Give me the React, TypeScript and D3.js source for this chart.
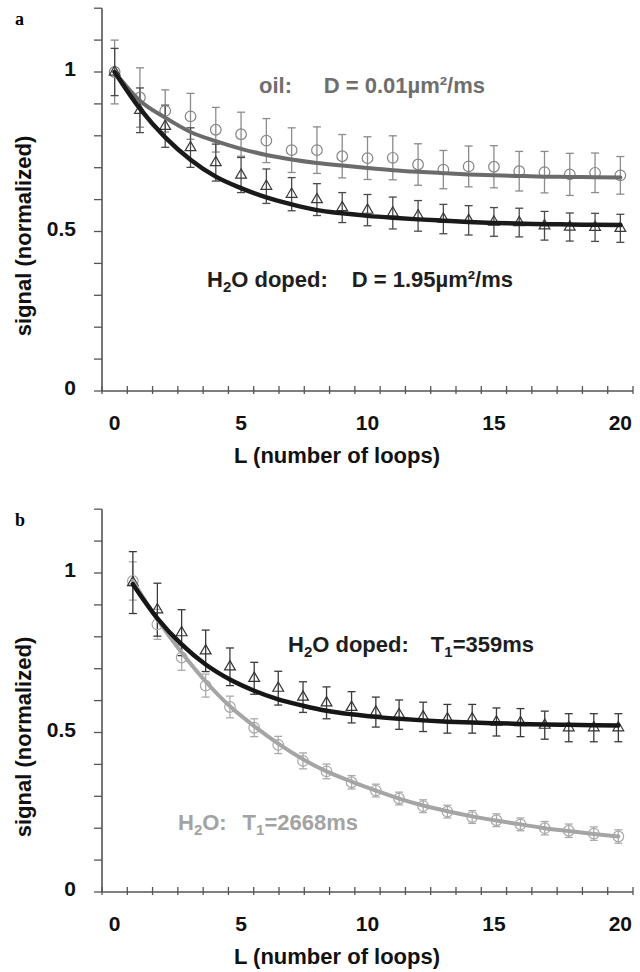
import * as d3 from 'd3';

// L categories (number of loops)
const loopsA = [0, 1, 2, 3, 4, 5, 6, 7, 8, 9, 10, 11, 12, 13, 14, 15, 16, 17, 18, 19, 20];
// panel b points sit slightly off the category centres
const loopsB = [0.72, 1.69, 2.65, 3.6, 4.56, 5.52, 6.47, 7.45, 8.38, 9.37, 10.33, 11.25, 12.2, 13.16, 14.14, 15.1, 16.05, 17.01, 17.96, 18.95, 19.92];

const xTickLabels = [0, 5, 10, 15, 20];
const yTicks = [0, 0.1, 0.2, 0.3, 0.4, 0.5, 0.6, 0.7, 0.8, 0.9, 1, 1.1, 1.2];
const yTickLabels = [0, 0.5, 1];

// panel a: oil
const oilSignalA = [1.0, 0.92, 0.878, 0.861, 0.819, 0.805, 0.785, 0.755, 0.755, 0.736, 0.73, 0.731, 0.71, 0.694, 0.704, 0.703, 0.689, 0.686, 0.679, 0.684, 0.676];
const oilErrA = [0.1, 0.093, 0.066, 0.072, 0.07, 0.069, 0.069, 0.07, 0.073, 0.068, 0.067, 0.069, 0.065, 0.06, 0.064, 0.066, 0.062, 0.065, 0.066, 0.062, 0.059];
const oilFitA = [1.0, 0.91, 0.857, 0.812, 0.783, 0.759, 0.74, 0.726, 0.715, 0.707, 0.699, 0.692, 0.687, 0.683, 0.679, 0.676, 0.674, 0.672, 0.671, 0.67, 0.669];

// panel a: H2O doped
const dopedSignalA = [1.0, 0.88, 0.83, 0.763, 0.716, 0.677, 0.642, 0.617, 0.6, 0.575, 0.567, 0.558, 0.549, 0.539, 0.535, 0.53, 0.528, 0.518, 0.514, 0.513, 0.51];
const dopedErrA = [0.074, 0.07, 0.066, 0.062, 0.058, 0.055, 0.054, 0.052, 0.05, 0.047, 0.049, 0.05, 0.048, 0.046, 0.046, 0.045, 0.045, 0.045, 0.044, 0.044, 0.044];
const dopedFitA = [1.0, 0.885, 0.795, 0.725, 0.672, 0.636, 0.607, 0.585, 0.567, 0.557, 0.549, 0.543, 0.538, 0.534, 0.53, 0.527, 0.525, 0.523, 0.522, 0.521, 0.52];

// panel b: H2O doped
const dopedSignalB = [0.97, 0.885, 0.813, 0.756, 0.706, 0.67, 0.639, 0.611, 0.593, 0.579, 0.564, 0.556, 0.549, 0.543, 0.543, 0.533, 0.531, 0.523, 0.515, 0.515, 0.515];
const dopedErrB = [0.097, 0.083, 0.072, 0.065, 0.059, 0.05, 0.053, 0.048, 0.05, 0.049, 0.047, 0.046, 0.046, 0.045, 0.045, 0.044, 0.044, 0.044, 0.044, 0.044, 0.044];
const dopedFitB = [0.965, 0.858, 0.776, 0.713, 0.666, 0.631, 0.604, 0.584, 0.568, 0.557, 0.549, 0.543, 0.538, 0.534, 0.531, 0.529, 0.527, 0.525, 0.524, 0.523, 0.522];

// panel b: H2O
const waterSignalB = [0.975, 0.839, 0.735, 0.647, 0.58, 0.515, 0.461, 0.411, 0.378, 0.344, 0.318, 0.293, 0.269, 0.252, 0.235, 0.225, 0.212, 0.2, 0.192, 0.183, 0.174];
const waterErrB = [0.06, 0.047, 0.04, 0.036, 0.034, 0.028, 0.027, 0.025, 0.023, 0.021, 0.02, 0.02, 0.02, 0.02, 0.02, 0.02, 0.02, 0.021, 0.021, 0.021, 0.021];
const waterFitB = [0.975, 0.855, 0.751, 0.66, 0.582, 0.52, 0.465, 0.416, 0.378, 0.346, 0.318, 0.293, 0.271, 0.253, 0.237, 0.224, 0.212, 0.2, 0.191, 0.182, 0.174];

const FONT = "'Liberation Sans', Arial, Helvetica, sans-serif";

type Series = {
  xs: number[];
  values: number[];
  errs: number[];
  fit: number[];
  marker: 'circle' | 'triangle';
  lineColor: string;
  markerColor: string;
  errColor: string;
  lineWidth: number;
};

const triPath = d3.symbol(d3.symbolTriangle, 50)() as string;

function Panel({ top, letter, series, children }: { top: number; letter: string; series: Series[]; children?: any }) {
  const x = d3.scaleLinear().domain([-0.5, 20.5]).range([102, 633]);
  const y = d3.scaleLinear().domain([0, 1.2]).range([top + 391, top + 391 - 1.2 * 319]);
  const axisColor = '#555';
  const x0 = x(-0.5);
  const y0 = y(0);
  const boundaries = loopsA.map(v => v - 0.5).concat([20.5]);

  return (
    <g>
      <text x={15} y={top + 25} fontFamily="'Liberation Serif', 'Times New Roman', serif" fontWeight="bold" fontSize={18}>{letter}</text>

      {/* y axis */}
      <line x1={x0} x2={x0} y1={y(0)} y2={y(1.2)} stroke={axisColor} strokeWidth={1.6} />
      {yTicks.map(t => (
        <line key={t} x1={x0 - 8} x2={x0} y1={y(t)} y2={y(t)} stroke={axisColor} strokeWidth={1.3} />
      ))}
      {yTickLabels.map(t => (
        <text key={t} x={76} y={y(t) + 4} textAnchor="end" fontFamily={FONT} fontWeight="bold" fontSize={21} fill="#111">{t}</text>
      ))}
      <text transform={`translate(31,${top + 236}) rotate(-90)`} textAnchor="middle" fontFamily={FONT} fontWeight="bold" fontSize={22} fill="#111">signal (normalized)</text>

      {/* x axis */}
      <line x1={x0} x2={x(20.5)} y1={y0} y2={y0} stroke={axisColor} strokeWidth={1.6} />
      {boundaries.map(b => (
        <line key={b} x1={x(b)} x2={x(b)} y1={y0 - 5} y2={y0 + 3} stroke={axisColor} strokeWidth={1.3} />
      ))}
      {xTickLabels.map(t => (
        <text key={t} x={x(t)} y={top + 430} textAnchor="middle" fontFamily={FONT} fontWeight="bold" fontSize={21} fill="#111">{t}</text>
      ))}
      <text x={337} y={top + 463} textAnchor="middle" fontFamily={FONT} fontWeight="bold" fontSize={22} fill="#111">L (number of loops)</text>

      {/* error bars */}
      {series.map((s, si) => (
        <g key={'e' + si} stroke={s.errColor} strokeWidth={1.3}>
          {s.values.map((v, i) => {
            const cx = x(s.xs[i]);
            const yt = y(v + s.errs[i]);
            const yb = y(v - s.errs[i]);
            return (
              <g key={i}>
                <line x1={cx} x2={cx} y1={yt} y2={yb} />
                <line x1={cx - 4} x2={cx + 4} y1={yt} y2={yt} />
                <line x1={cx - 4} x2={cx + 4} y1={yb} y2={yb} />
              </g>
            );
          })}
        </g>
      ))}

      {/* markers */}
      {series.map((s, si) => (
        <g key={'m' + si} fill="none" stroke={s.markerColor} strokeWidth={1.2}>
          {s.values.map((v, i) =>
            s.marker === 'circle' ? (
              <circle key={i} cx={x(s.xs[i])} cy={y(v)} r={5.3} />
            ) : (
              <path key={i} d={triPath} transform={`translate(${x(s.xs[i])},${y(v)})`} />
            )
          )}
        </g>
      ))}

      {/* fitted curves */}
      {series.map((s, si) => {
        const line = d3.line<number>()
          .x((_, i) => x(s.xs[i]))
          .y(d => y(d))
          .curve(d3.curveMonotoneX);
        return <path key={'l' + si} d={line(s.fit) as string} fill="none" stroke={s.lineColor} strokeWidth={s.lineWidth} strokeLinecap="round" />;
      })}

      {children}
    </g>
  );
}

export default function App() {
  const seriesA: Series[] = [
    { xs: loopsA, values: oilSignalA, errs: oilErrA, fit: oilFitA, marker: 'circle', lineColor: '#6b6b6b', markerColor: '#858585', errColor: '#8c8c8c', lineWidth: 4 },
    { xs: loopsA, values: dopedSignalA, errs: dopedErrA, fit: dopedFitA, marker: 'triangle', lineColor: '#1a1a1a', markerColor: '#3a3a3a', errColor: '#4a4a4a', lineWidth: 4.5 },
  ];
  const seriesB: Series[] = [
    { xs: loopsB, values: waterSignalB, errs: waterErrB, fit: waterFitB, marker: 'circle', lineColor: '#a5a5a5', markerColor: '#a8a8a8', errColor: '#ababab', lineWidth: 4 },
    { xs: loopsB, values: dopedSignalB, errs: dopedErrB, fit: dopedFitB, marker: 'triangle', lineColor: '#161616', markerColor: '#333', errColor: '#3a3a3a', lineWidth: 4.5 },
  ];
  const txt = { fontFamily: FONT, fontWeight: 'bold' as const, fontSize: 22 };

  return (
    <svg width={640} height={972} style={{ position: 'absolute', left: 0, top: 0, background: '#fff' }}>
      <rect width={640} height={972} fill="#fff" />
      <Panel top={0} letter="a" series={seriesA}>
        <text x={259} y={93} fill="#6e6e6e" {...txt}>oil:</text>
        <text x={485} y={93} textAnchor="end" fill="#6e6e6e" {...txt}>D = 0.01µm²/ms</text>
        <text x={207} y={287} fill="#1e1e1e" {...txt}>H<tspan fontSize={15} dy={5}>2</tspan><tspan dy={-5}>O doped:</tspan></text>
        <text x={513} y={287} textAnchor="end" fill="#1e1e1e" {...txt}>D = 1.95µm²/ms</text>
      </Panel>
      <Panel top={501} letter="b" series={seriesB}>
        <text x={288} y={652} fill="#1e1e1e" {...txt}>H<tspan fontSize={15} dy={5}>2</tspan><tspan dy={-5}>O doped:</tspan></text>
        <text x={534} y={652} textAnchor="end" fill="#1e1e1e" {...txt}>T<tspan fontSize={15} dy={5}>1</tspan><tspan dy={-5}>=359ms</tspan></text>
        <text x={178} y={830} fill="#a3a3a3" {...txt}>H<tspan fontSize={15} dy={5}>2</tspan><tspan dy={-5}>O:</tspan></text>
        <text x={358} y={830} textAnchor="end" fill="#a3a3a3" {...txt}>T<tspan fontSize={15} dy={5}>1</tspan><tspan dy={-5}>=2668ms</tspan></text>
      </Panel>
    </svg>
  );
}
